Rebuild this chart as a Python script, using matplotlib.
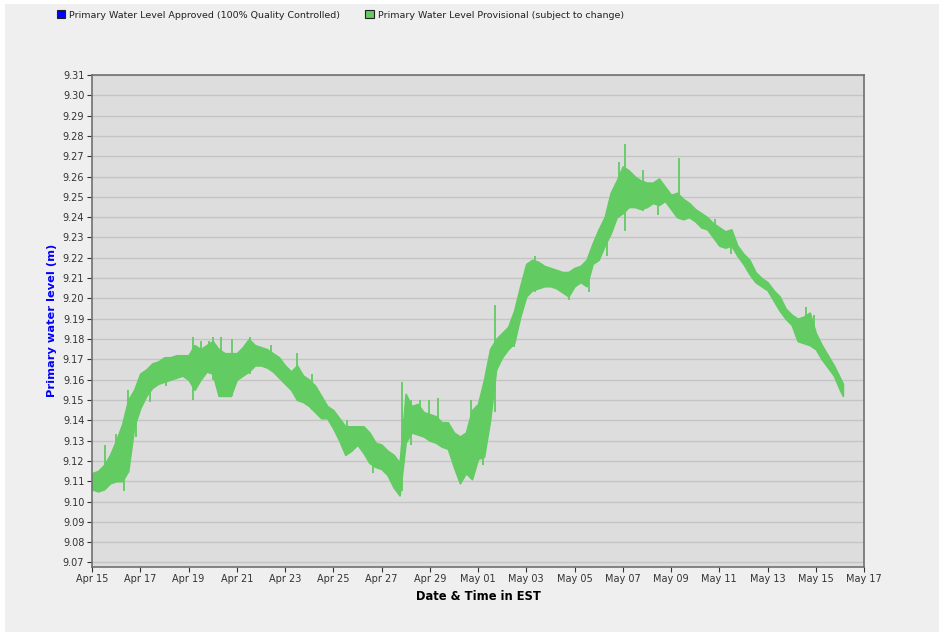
import numpy as np
import pandas as pd
import matplotlib
matplotlib.use("Agg")
import matplotlib.pyplot as plt
import matplotlib.dates as mdates
from matplotlib.patches import Patch, Rectangle

# readings every 6 h from Apr 15 00:00, upper / lower edge of the noisy band (m)
band_high = [
    9.114, 9.115, 9.118, 9.123, 9.130, 9.138, 9.150, 9.155,
    9.163, 9.165, 9.168, 9.169, 9.171, 9.171, 9.172, 9.172,
    9.172, 9.177, 9.175, 9.177, 9.179, 9.175, 9.173, 9.173,
    9.173, 9.176, 9.180, 9.177, 9.176, 9.175, 9.173, 9.171,
    9.167, 9.164, 9.167, 9.162, 9.160, 9.157, 9.152, 9.147,
    9.145, 9.141, 9.137, 9.137, 9.137, 9.137, 9.134, 9.129,
    9.128, 9.125, 9.123, 9.119, 9.153, 9.147, 9.148, 9.144,
    9.143, 9.142, 9.139, 9.139, 9.134, 9.132, 9.134, 9.145,
    9.148, 9.160, 9.175, 9.180, 9.183, 9.186, 9.194, 9.206,
    9.217, 9.219, 9.218, 9.216, 9.215, 9.214, 9.213, 9.213,
    9.215, 9.216, 9.219, 9.227, 9.234, 9.240, 9.252, 9.258,
    9.265, 9.263, 9.260, 9.258, 9.257, 9.257, 9.259, 9.255,
    9.251, 9.252, 9.249, 9.247, 9.244, 9.242, 9.240, 9.237,
    9.235, 9.233, 9.234, 9.226, 9.222, 9.219, 9.213, 9.210,
    9.208, 9.204, 9.201, 9.195, 9.192, 9.190, 9.191, 9.193,
    9.183, 9.177, 9.172, 9.167, 9.161, 9.158,
]
band_low = [
    9.106, 9.105, 9.106, 9.109, 9.110, 9.110, 9.115, 9.137,
    9.146, 9.152, 9.156, 9.158, 9.159, 9.160, 9.161, 9.162,
    9.160, 9.155, 9.160, 9.164, 9.163, 9.152, 9.152, 9.152,
    9.160, 9.162, 9.164, 9.167, 9.167, 9.166, 9.164, 9.161,
    9.158, 9.155, 9.150, 9.149, 9.147, 9.144, 9.141, 9.141,
    9.136, 9.130, 9.123, 9.125, 9.128, 9.124, 9.119, 9.117,
    9.116, 9.113, 9.107, 9.103, 9.129, 9.134, 9.133, 9.132,
    9.130, 9.129, 9.127, 9.126, 9.117, 9.109, 9.114, 9.111,
    9.121, 9.122, 9.140, 9.165, 9.171, 9.175, 9.178, 9.191,
    9.201, 9.204, 9.205, 9.206, 9.206, 9.205, 9.203, 9.201,
    9.206, 9.208, 9.206, 9.217, 9.219, 9.226, 9.232, 9.240,
    9.242, 9.245, 9.245, 9.244, 9.245, 9.247, 9.246, 9.248,
    9.244, 9.240, 9.239, 9.240, 9.238, 9.235, 9.234, 9.230,
    9.226, 9.225, 9.226, 9.221, 9.217, 9.212, 9.208, 9.206,
    9.204, 9.199, 9.194, 9.190, 9.187, 9.179, 9.178, 9.177,
    9.175, 9.170, 9.166, 9.162, 9.155, 9.152,
]
times = list(pd.date_range("2024-04-15 00:00", periods=125, freq="6h")) + [
    pd.Timestamp("2024-05-16 03:00")]

# short spikes: time, low, high
spike_time = pd.to_datetime([
    "2024-04-15 13:00", "2024-04-16 00:00", "2024-04-16 08:00", "2024-04-16 12:00",
    "2024-04-16 20:00", "2024-04-17 10:00", "2024-04-18 02:00",
    "2024-04-19 04:00", "2024-04-19 12:00", "2024-04-19 20:00", "2024-04-20 00:00",
    "2024-04-20 08:00", "2024-04-20 19:00", "2024-04-21 13:00", "2024-04-22 10:00",
    "2024-04-23 12:00", "2024-04-24 03:00", "2024-04-25 14:00", "2024-04-26 16:00",
    "2024-04-27 20:00", "2024-04-28 05:00", "2024-04-28 14:00", "2024-04-28 23:00",
    "2024-04-29 08:00", "2024-04-30 07:00", "2024-04-30 17:00", "2024-05-01 05:00",
    "2024-05-01 17:00", "2024-05-02 12:00", "2024-05-03 09:00", "2024-05-04 19:00",
    "2024-05-05 14:00", "2024-05-06 08:00", "2024-05-06 20:00", "2024-05-07 02:00",
    "2024-05-07 20:00", "2024-05-08 11:00", "2024-05-09 08:00", "2024-05-10 20:00",
    "2024-05-11 12:00", "2024-05-14 14:00", "2024-05-14 22:00",
])
spike_low = [9.108, 9.110, 9.105, 9.118, 9.132, 9.149, 9.157,
             9.150, 9.160, 9.164, 9.160, 9.152, 9.152, 9.163, 9.166,
             9.150, 9.145, 9.123, 9.114, 9.105, 9.128, 9.133, 9.130,
             9.129, 9.109, 9.111, 9.118, 9.144, 9.176, 9.203, 9.199,
             9.203, 9.221, 9.240, 9.233, 9.243, 9.241, 9.240, 9.229,
             9.222, 9.178, 9.176]
spike_high = [9.128, 9.133, 9.138, 9.155, 9.153, 9.166, 9.171,
              9.181, 9.179, 9.179, 9.181, 9.181, 9.180, 9.181, 9.177,
              9.173, 9.163, 9.140, 9.130, 9.159, 9.150, 9.150, 9.150,
              9.151, 9.132, 9.150, 9.150, 9.197, 9.190, 9.221, 9.213,
              9.216, 9.236, 9.267, 9.276, 9.263, 9.258, 9.269, 9.239,
              9.233, 9.196, 9.192]

green = "#62cb62"

fig = plt.figure(figsize=(9.39, 6.32), dpi=100, facecolor="white")
fig.patches.append(Rectangle((5 / 939, 0), 1, 1 - 4 / 632, transform=fig.transFigure,
                             facecolor="#efefef", edgecolor="none", zorder=-10))
ax = fig.add_axes([92 / 939, 1 - 566.5 / 632, 772 / 939, 491.5 / 632])
ax.set_facecolor("#dddddd")

ax.fill_between(times, band_low, band_high, color=green, lw=1.2, edgecolor=green)
ax.vlines(spike_time, spike_low, spike_high, color=green, lw=1.3)

ax.set_ylim(9.068, 9.31)
ax.set_yticks(np.arange(9.07, 9.3101, 0.01))
ax.yaxis.set_major_formatter(plt.FormatStrFormatter("%.2f"))
ax.set_xlim(pd.Timestamp("2024-04-15"), pd.Timestamp("2024-05-17"))
ax.set_xticks(pd.date_range("2024-04-15", "2024-05-17", freq="2D"))
ax.xaxis.set_major_formatter(mdates.DateFormatter("%b %d"))
ax.grid(axis="y", color="#c4c4c4", lw=1.0)
ax.set_axisbelow(True)
for s in ax.spines.values():
    s.set_color("#707070")
    s.set_linewidth(1.2)
ax.tick_params(labelsize=7, colors="#333333", length=3.5, width=0.8, pad=2)

ax.set_ylabel("Primary water level (m)", color="#0000ff", fontsize=8.2,
              fontweight="bold", labelpad=4)
ax.set_xlabel("Date & Time in EST", fontsize=8.3, fontweight="bold", labelpad=4)

handles = [Patch(facecolor="#0000ff", edgecolor="#222222", lw=0.8),
           Patch(facecolor=green, edgecolor="#222222", lw=0.8)]
labels = ["Primary Water Level Approved (100% Quality Controlled)",
          "Primary Water Level Provisional (subject to change)"]
fig.legend(handles, labels, loc="upper left", bbox_to_anchor=(48 / 939, 1 - 2 / 632),
           ncol=2, frameon=False, fontsize=6.8, handlelength=0.9, handleheight=0.9,
           handletextpad=0.4, columnspacing=2.7, labelcolor="#222222")

fig.savefig("out.png", dpi=100, facecolor=fig.get_facecolor())
